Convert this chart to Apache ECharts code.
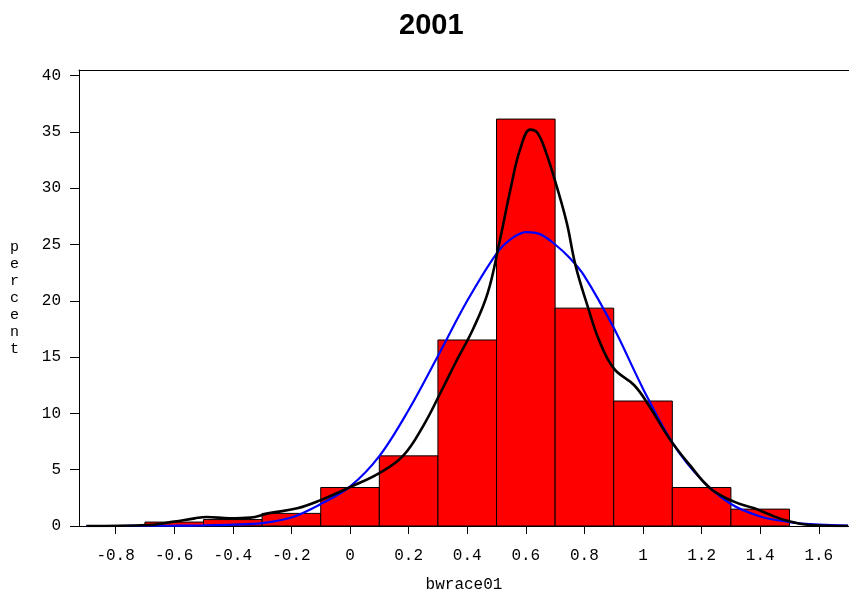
<!DOCTYPE html>
<html>
<head>
<meta charset="utf-8">
<script src="https://cdn.jsdelivr.net/npm/echarts@6/dist/echarts.min.js"></script>
<style>
  html, body { margin: 0; padding: 0; background: #fff; }
  #chart { width: 849px; height: 598px; }
</style>
</head>
<body>
<div id="chart"></div>
<script>
const titleText = '2001'
const xName = 'bwrace01'
const yName = 'percent'

// histogram: left edge of each bin, bin width, percent
const binStarts = [-0.7, -0.5, -0.3, -0.1, 0.1, 0.3, 0.5, 0.7, 0.9, 1.1, 1.3]
const binWidth = 0.2
const binPercent = [0.35, 0.57, 1.12, 3.42, 6.23, 16.52, 36.14, 19.35, 11.1, 3.42, 1.5]

// normal curve (blue)
const normalX = [-0.9, -0.8, -0.7, -0.6, -0.5, -0.4, -0.3, -0.2, -0.1, 0, 0.1, 0.2, 0.3, 0.4, 0.5, 0.55, 0.6, 0.65, 0.7, 0.75, 0.8, 0.9, 1.0, 1.1, 1.2, 1.3, 1.4, 1.5, 1.6, 1.7]
const normalY = [0, 0, 0.02, 0.03, 0.06, 0.12, 0.25, 0.75, 1.95, 3.5, 6.2, 10.3, 15.1, 20.0, 24.2, 25.5, 26.1, 25.9, 25.0, 23.8, 22.2, 17.6, 12.2, 7.4, 4.1, 1.95, 0.85, 0.35, 0.12, 0.04]

// kernel density curve (black)
const kernelX = [-0.9, -0.69, -0.6, -0.53, -0.49, -0.41, -0.34, -0.28, -0.18, -0.1, 0, 0.1, 0.18, 0.25, 0.31, 0.36, 0.42, 0.47, 0.51, 0.55, 0.58, 0.615, 0.64, 0.67, 0.705, 0.74, 0.77, 0.81, 0.85, 0.9, 0.97, 1.02, 1.09, 1.16, 1.23, 1.31, 1.38, 1.43, 1.49, 1.57, 1.7]
const kernelY = [0, 0.09, 0.39, 0.68, 0.8, 0.68, 0.74, 1.12, 1.57, 2.3, 3.45, 4.7, 6.2, 8.9, 11.9, 14.5, 17.5, 20.7, 25.2, 30.2, 33.4, 35.2, 34.9, 33.1, 30.2, 26.9, 23.1, 19.6, 16.5, 14.0, 12.5, 10.7, 7.76, 5.4, 3.34, 2.16, 1.57, 1.04, 0.48, 0.09, 0]

const xTicks = [-0.8, -0.6, -0.4, -0.2, 0, 0.2, 0.4, 0.6, 0.8, 1, 1.2, 1.4, 1.6]
const yTicks = [0, 5, 10, 15, 20, 25, 30, 35, 40]

const monoFont = '"Liberation Mono", "DejaVu Sans Mono", monospace'

const bars = binStarts.map((s, i) => [s, s + binWidth, binPercent[i]])
const pairs = (xs, ys) => xs.map((x, i) => [x, ys[i]])

const myChart = echarts.init(document.getElementById('chart'), null, { renderer: 'canvas' })

let option = {
  animation: false,
  title: {
    text: titleText,
    left: 399,
    top: 11,
    padding: 0,
    textStyle: { fontFamily: '"Liberation Sans", Arial, sans-serif', fontWeight: 'bold', fontSize: 29, color: '#000' }
  },
  grid: { left: 79, right: 0, top: 70, bottom: 70 },
  xAxis: [
    {
      type: 'value',
      min: -0.925,
      max: 1.703,
      name: xName,
      nameLocation: 'middle',
      nameGap: 51,
      nameTextStyle: { fontFamily: monoFont, fontSize: 16, color: '#000' },
      axisLine: { show: true, onZero: false, lineStyle: { color: '#000', width: 1 } },
      axisTick: { show: true, length: 8, customValues: xTicks, lineStyle: { color: '#000' } },
      axisLabel: {
        customValues: xTicks,
        margin: 22,
        fontFamily: monoFont,
        fontSize: 16,
        color: '#000',
        formatter: (v) => String(Math.round(v * 10) / 10)
      },
      splitLine: { show: false }
    },
    {
      type: 'value',
      position: 'top',
      min: -0.925,
      max: 1.703,
      axisLine: { show: true, onZero: false, lineStyle: { color: '#000', width: 1 } },
      axisTick: { show: false },
      axisLabel: { show: false },
      splitLine: { show: false }
    }
  ],
  yAxis: {
    type: 'value',
    min: 0,
    max: 40.5,
    name: yName.split('').join('\n'),
    nameLocation: 'middle',
    nameRotate: 0,
    nameGap: 60,
    nameTextStyle: { fontFamily: monoFont, fontSize: 15, lineHeight: 17, color: '#000' },
    axisLine: { show: true, onZero: false, lineStyle: { color: '#000', width: 1 } },
    axisTick: { show: true, length: 9, customValues: yTicks, lineStyle: { color: '#000' } },
    axisLabel: { customValues: yTicks, margin: 18, fontFamily: monoFont, fontSize: 16, color: '#000' },
    splitLine: { show: false }
  },
  series: [
    {
      name: 'histogram',
      type: 'custom',
      renderItem: (params, api) => {
        const p0 = api.coord([api.value(0), 0])
        const p1 = api.coord([api.value(1), api.value(2)])
        return {
          type: 'rect',
          shape: { x: p0[0], y: p1[1], width: p1[0] - p0[0], height: p0[1] - p1[1] },
          style: { fill: '#ff0000', stroke: '#000', lineWidth: 1 }
        }
      },
      encode: { x: [0, 1], y: 2 },
      data: bars,
      z: 1
    },
    {
      name: 'normal',
      type: 'line',
      smooth: 0.35,
      showSymbol: false,
      lineStyle: { color: '#0000ff', width: 2.2 },
      data: pairs(normalX, normalY),
      z: 2
    },
    {
      name: 'kernel',
      type: 'line',
      smooth: 0.4,
      showSymbol: false,
      lineStyle: { color: '#000', width: 2.6 },
      data: pairs(kernelX, kernelY),
      z: 3
    }
  ]
}
option && myChart.setOption(option)
</script>
</body>
</html>
